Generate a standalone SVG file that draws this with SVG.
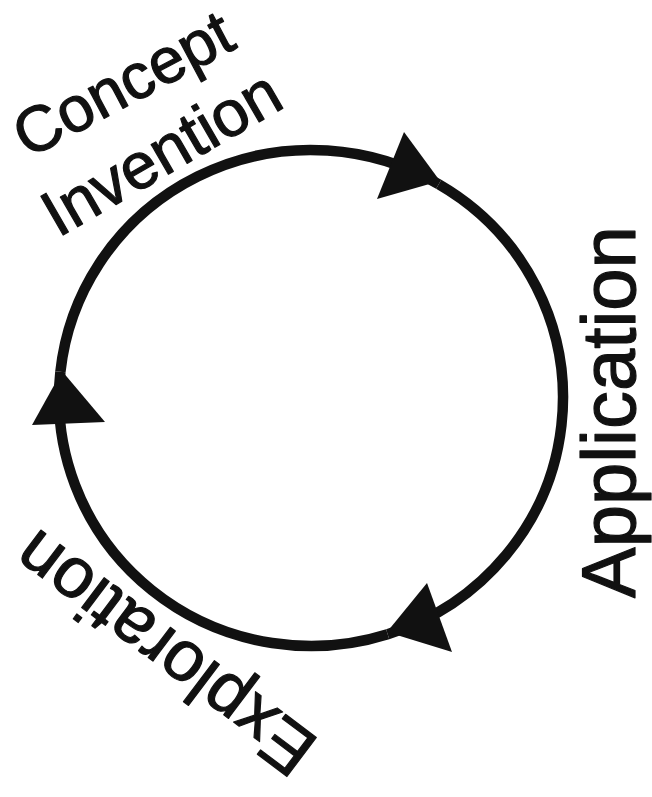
<svg xmlns="http://www.w3.org/2000/svg" width="652" height="797" viewBox="0 0 652 797">
<style>
.label{font-family:"Liberation Sans",Arial,Helvetica,sans-serif;fill:#111;stroke:#111;stroke-width:1.2;stroke-linejoin:round;}
.arc{fill:none;stroke:#111;stroke-width:10.5;}
.head{fill:#111;stroke:none;}
</style>
<rect width="652" height="797" fill="#fff"/>
<g id="connectors">
<path class="arc" d="M60.4,371.8 A252,248 0 0,1 438.7,184.2"/>
<path class="arc" d="M438.7,184.2 A252,248 0 0,1 387.7,634.2"/>
<path class="arc" d="M387.7,634.2 A252,248 0 0,1 60.4,371.8"/>
<polygon class="head" points="440,181 404,132 377,199"/>
<polygon class="head" points="387,632 427,583 452,652"/>
<polygon class="head" points="62,371 32,425 105,422"/>
</g>
<g id="concept-invention">
<text class="label" font-size="64" transform="rotate(-28 28 159)" x="28" y="159">Concept</text>
<text class="label" font-size="65" transform="rotate(-30 58 238)" x="58" y="238">Invention</text>
</g>
<g id="application">
<text class="label" font-size="76" transform="rotate(-90 635 598)" x="635" y="598">Application</text>
</g>
<g id="exploration">
<text class="label" font-size="71" transform="rotate(-143 321 741)" x="321" y="741">Exploration</text>
</g>
</svg>
